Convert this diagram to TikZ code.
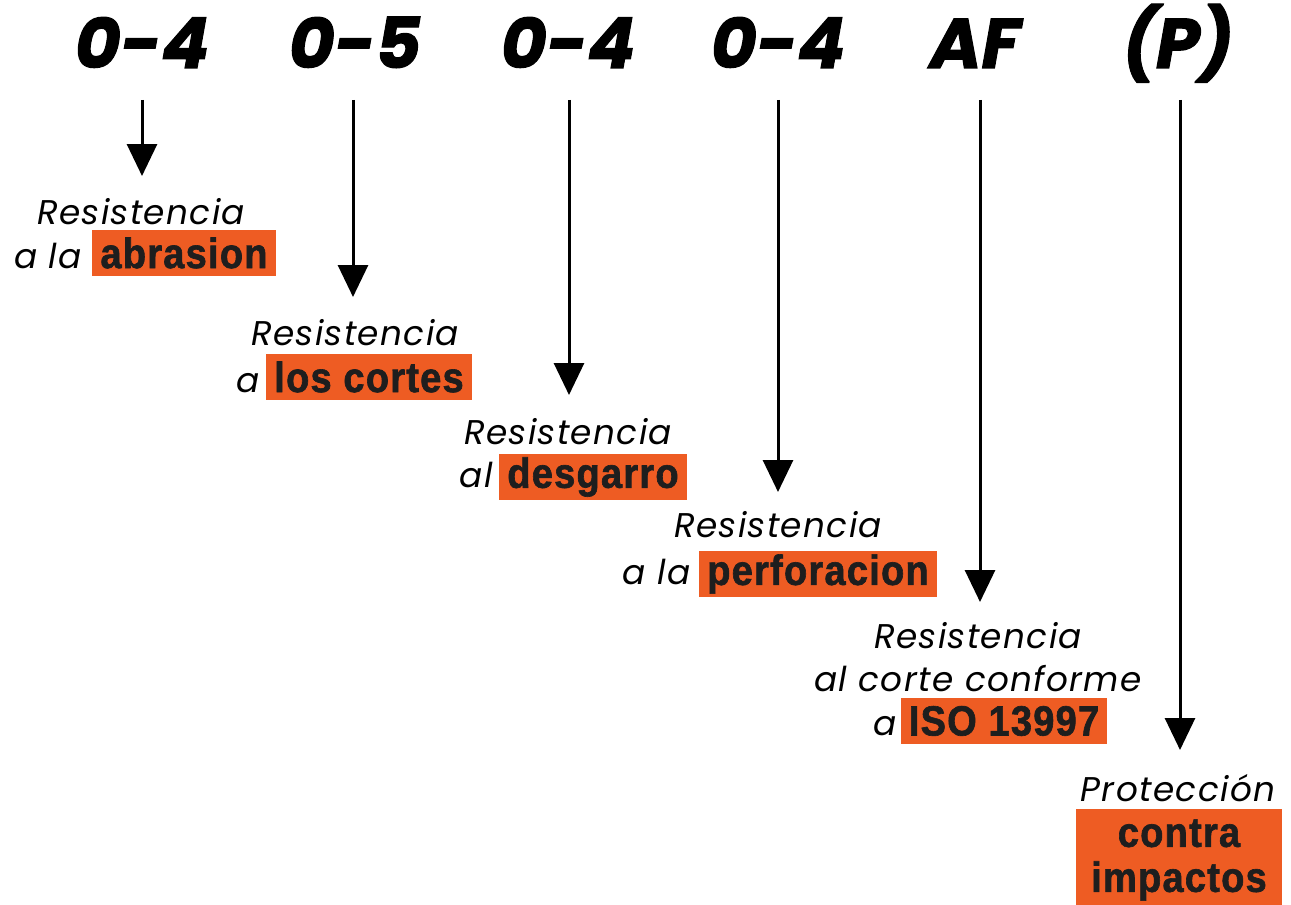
\documentclass[tikz,border=0pt]{standalone}
\usepackage{fontspec}
\usetikzlibrary{arrows.meta, positioning}
\newfontfamily\headfont{Poppins}[BoldItalicFeatures={FakeBold=1.5}]
\newfontfamily\lblfont{Poppins}[LetterSpace=4]
\newfontfamily\boxfont{Liberation Sans}[FakeStretch=0.9, LetterSpace=3, BoldFeatures={FakeBold=1.5}]
\definecolor{myOrange}{RGB}{238, 92, 35}
\definecolor{myInk}{RGB}{30, 30, 30}
\tikzstyle{code}= [font=\headfont\bfseries\itshape\fontsize{40}{40}\selectfont, anchor=base, inner sep=0]
\tikzstyle{lbl}= [font=\lblfont\itshape\fontsize{19.5}{22}\selectfont, inner sep=0]
\tikzstyle{hl}= [fill=myOrange, text=myInk, font=\boxfont\bfseries\fontsize{24}{24}\selectfont, inner xsep=0.16cm, inner ysep=0, minimum height=0.92cm]
\tikzstyle{arr}= [-{Triangle[width=0.6cm, length=0.64cm]}, line width=0.06cm]

\begin{document}
\begin{tikzpicture}[x=0.02cm, y=-0.02cm]
    \useasboundingbox (0,0) rectangle (1291,905);

    % rating codes
    \node [code] (c1) at (142,68) {0-4};
    \node [code] (c2) at (355,68) {0-5};
    \node [code] (c3) at (568,68) {0-4};
    \node [code] (c4) at (778,68) {0-4};
    \node [code] (c5) at (975,68) {AF};
    \node [code] (c6) at (1178,68) {(P)};

    % arrows
    \coordinate (s1) at (142,100);  \coordinate (t1) at (142,176);
    \coordinate (s2) at (353,100);  \coordinate (t2) at (353,297);
    \coordinate (s3) at (569,100);  \coordinate (t3) at (569,395);
    \coordinate (s4) at (778,100);  \coordinate (t4) at (778,492);
    \coordinate (s5) at (980,100);  \coordinate (t5) at (980,602);
    \coordinate (s6) at (1180,100); \coordinate (t6) at (1180,750);
    \draw [arr] (s1) -- (t1);
    \draw [arr] (s2) -- (t2);
    \draw [arr] (s3) -- (t3);
    \draw [arr] (s4) -- (t4);
    \draw [arr] (s5) -- (t5);
    \draw [arr] (s6) -- (t6);

    % abrasion
    \node [lbl] (r1) at (141,212) {Resistencia};
    \node [hl] (b1) at (184,253) {abrasion};
    \node [lbl, base left=0.2cm of b1] (a1) {a la};

    % cortes
    \node [lbl] (r2) at (355,333) {Resistencia};
    \node [hl] (b2) at (369,377) {los cortes};
    \node [lbl, base left=0.12cm of b2] (a2) {a};

    % desgarro
    \node [lbl] (r3) at (568,432) {Resistencia};
    \node [hl] (b3) at (593,477) {desgarro};
    \node [lbl, base left=0.12cm of b3] (a3) {al};

    % perforacion
    \node [lbl] (r4) at (778,525) {Resistencia};
    \node [hl] (b4) at (818,574) {perforacion};
    \node [lbl, base left=0.16cm of b4] (a4) {a la};

    % ISO 13997
    \node [lbl] (r5) at (978,636) {Resistencia};
    \node [lbl] (m5) at (978,679) {al corte conforme};
    \node [hl] (b5) at (1004,721) {ISO 13997};
    \node [lbl, base left=0.08cm of b5] (a5) {a};

    % impactos
    \node [lbl] (r6) at (1178,788) {Protección};
    \node [hl, anchor=north, align=center, minimum width=4.12cm, inner ysep=0.2cm,
           font=\boxfont\bfseries\fontsize{24}{25.6}\selectfont] (b6) at (1179,809) {contra\\impactos};

\end{tikzpicture}
\end{document}
